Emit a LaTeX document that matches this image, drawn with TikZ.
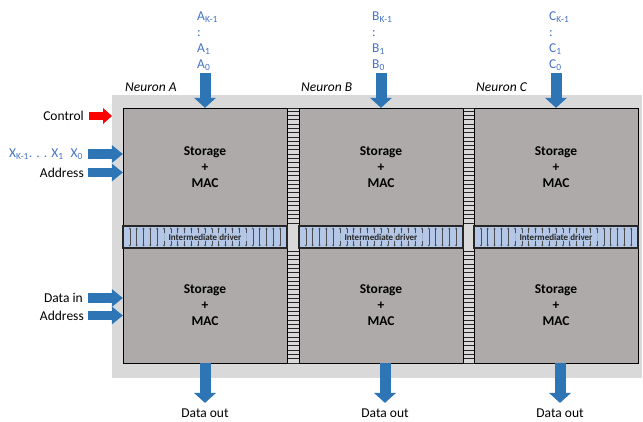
\documentclass[tikz,border=0pt]{standalone}
\usepackage{fontspec}
\setmainfont{Carlito}
\usetikzlibrary{arrows.meta}

\definecolor{chipgray}{HTML}{D9D9D9}
\definecolor{cellgray}{HTML}{AEAAAA}
\definecolor{drvblue}{HTML}{B4C7E7}
\definecolor{arrblue}{HTML}{2E75B6}
\definecolor{lblblue}{HTML}{4472C4}

\tikzset{
  block/.style={draw, fill=cellgray, minimum width=164pt, minimum height=118pt, inner sep=0pt,
    align=center, font=\bfseries\fontsize{13.5}{16}\selectfont},
  lowblock/.style={block, minimum height=115pt},
  driver/.style={draw=black!85, line width=1.3pt, fill=drvblue, minimum width=164pt, minimum height=22pt, inner sep=0pt},
  drvtext/.style={fill=drvblue, fill opacity=0.85, text opacity=1, inner xsep=10pt, inner ysep=1pt,
    font=\bfseries\fontsize{9}{10}\selectfont, text=black!85},
  drvtick/.style={black!70, line width=0.4pt, {Stealth[length=1.8pt,width=2.2pt]}-{Stealth[length=1.8pt,width=2.2pt]}},
  rung/.style={black!85, line width=0.6pt},
  bigarrow/.style={arrblue, line width=11pt, -{Triangle[length=10pt,width=22pt,line width=0pt]}},
  sidearrow/.style={arrblue, line width=9.5pt, -{Triangle[length=11pt,width=18pt,line width=0pt]}},
  ctrlarrow/.style={red, line width=8pt, -{Triangle[length=9pt,width=16pt,line width=0pt]}},
  txt/.style={font=\fontsize{13.5}{16}\selectfont, inner sep=1pt},
  bluelbl/.style={txt, text=lblblue, align=left, inner sep=0pt, anchor=south west},
  neuron/.style={txt, font=\itshape\fontsize{13.5}{16}\selectfont, anchor=west},
}

\begin{document}
\begin{tikzpicture}[x=1pt,y=-1pt]

        \useasboundingbox (0,0) rectangle (643,421);

        % chip background
        \node[fill=chipgray, anchor=north west, minimum width=530pt, minimum height=283pt, inner sep=0pt] (chip) at (112,95) {};

        % ladders between the neurons
        \foreach \lx/\lw in {287/12,463/11} {
          \draw[draw=black!85, fill=chipgray] (\lx,108) rectangle ++(\lw,255);
          \foreach \ry in {111,115.3,...,224} \draw[rung] (\lx,\ry) -- ++(\lw,0);
          \foreach \ry in {251,255.3,...,361} \draw[rung] (\lx,\ry) -- ++(\lw,0);
        }

        % storage + MAC blocks
        \node[block] (ua) at (205,167) {Storage\\+\\MAC};
        \node[lowblock] (la) at (205,305.5) {Storage\\+\\MAC};
        \node[block] (ub) at (381,167) {Storage\\+\\MAC};
        \node[lowblock] (lb) at (381,305.5) {Storage\\+\\MAC};
        \node[block] (uc) at (556,167) {Storage\\+\\MAC};
        \node[lowblock] (lc) at (556,305.5) {Storage\\+\\MAC};

        % intermediate drivers
        \node[driver] (dra) at (205,237) {};
        \node[driver] (drb) at (381,237) {};
        \node[driver] (drc) at (556,237) {};
        \foreach \bx in {123,299,474}
          \foreach \i in {1,...,23}
            \draw[drvtick] ({\bx+\i*164/24},227.6) -- ({\bx+\i*164/24},246.4);
        \node[drvtext] at (dra) {Intermediate driver};
        \node[drvtext] at (drb) {Intermediate driver};
        \node[drvtext] at (drc) {Intermediate driver};

        % neuron names
        \node[neuron] (na) at (124,87) {Neuron A};
        \node[neuron] (nb) at (300,87) {Neuron B};
        \node[neuron] (nc) at (475,87) {Neuron C};

        % weight inputs
        \node[bluelbl] (alab) at (197,71) {A\textsubscript{K-1}\\:\\A\textsubscript{1}\\A\textsubscript{0}};
        \node[bluelbl] (blab) at (372,71) {B\textsubscript{K-1}\\:\\B\textsubscript{1}\\B\textsubscript{0}};
        \node[bluelbl] (clab) at (549,71) {C\textsubscript{K-1}\\:\\C\textsubscript{1}\\C\textsubscript{0}};
        \draw[bigarrow, shorten <=2pt] (ua.north |- alab.south) -- (ua.north);
        \draw[bigarrow, shorten <=2pt] (ub.north |- blab.south) -- (ub.north);
        \draw[bigarrow, shorten <=2pt] (uc.north |- clab.south) -- (uc.north);

        % left inputs
        \node[txt, anchor=east] (ctrl) at (85,116) {Control};
        \node[txt, anchor=east, text=lblblue] (xlab) at (84,154) {X\textsubscript{K-1}. . . X\textsubscript{1}\; X\textsubscript{0}};
        \node[txt, anchor=east] (adra) at (85,172.5) {Address};
        \node[txt, anchor=east] (din) at (84,298) {Data in};
        \node[txt, anchor=east] (adrb) at (85,315.5) {Address};
        \draw[ctrlarrow] ([xshift=4pt]ctrl.east) -- (ctrl.east -| chip.west);
        \draw[sidearrow] ([xshift=4pt]xlab.east) -- (xlab.east -| ua.west);
        \draw[sidearrow] ([xshift=3pt]adra.east) -- (adra.east -| ua.west);
        \draw[sidearrow] ([xshift=4pt]din.east) -- (din.east -| la.west);
        \draw[sidearrow] ([xshift=3pt]adrb.east) -- (adrb.east -| la.west);

        % outputs
        \node[txt] (outa) at (205,413.5) {Data out};
        \node[txt] (outb) at (385,413.5) {Data out};
        \node[txt] (outc) at (560,413.5) {Data out};
        \draw[bigarrow, shorten >=5pt] (outa.north |- la.south) -- (outa.north);
        \draw[bigarrow, shorten >=5pt] (outb.north |- lb.south) -- (outb.north);
        \draw[bigarrow, shorten >=5pt] (outc.north |- lc.south) -- (outc.north);

      \end{tikzpicture}
\end{document}
